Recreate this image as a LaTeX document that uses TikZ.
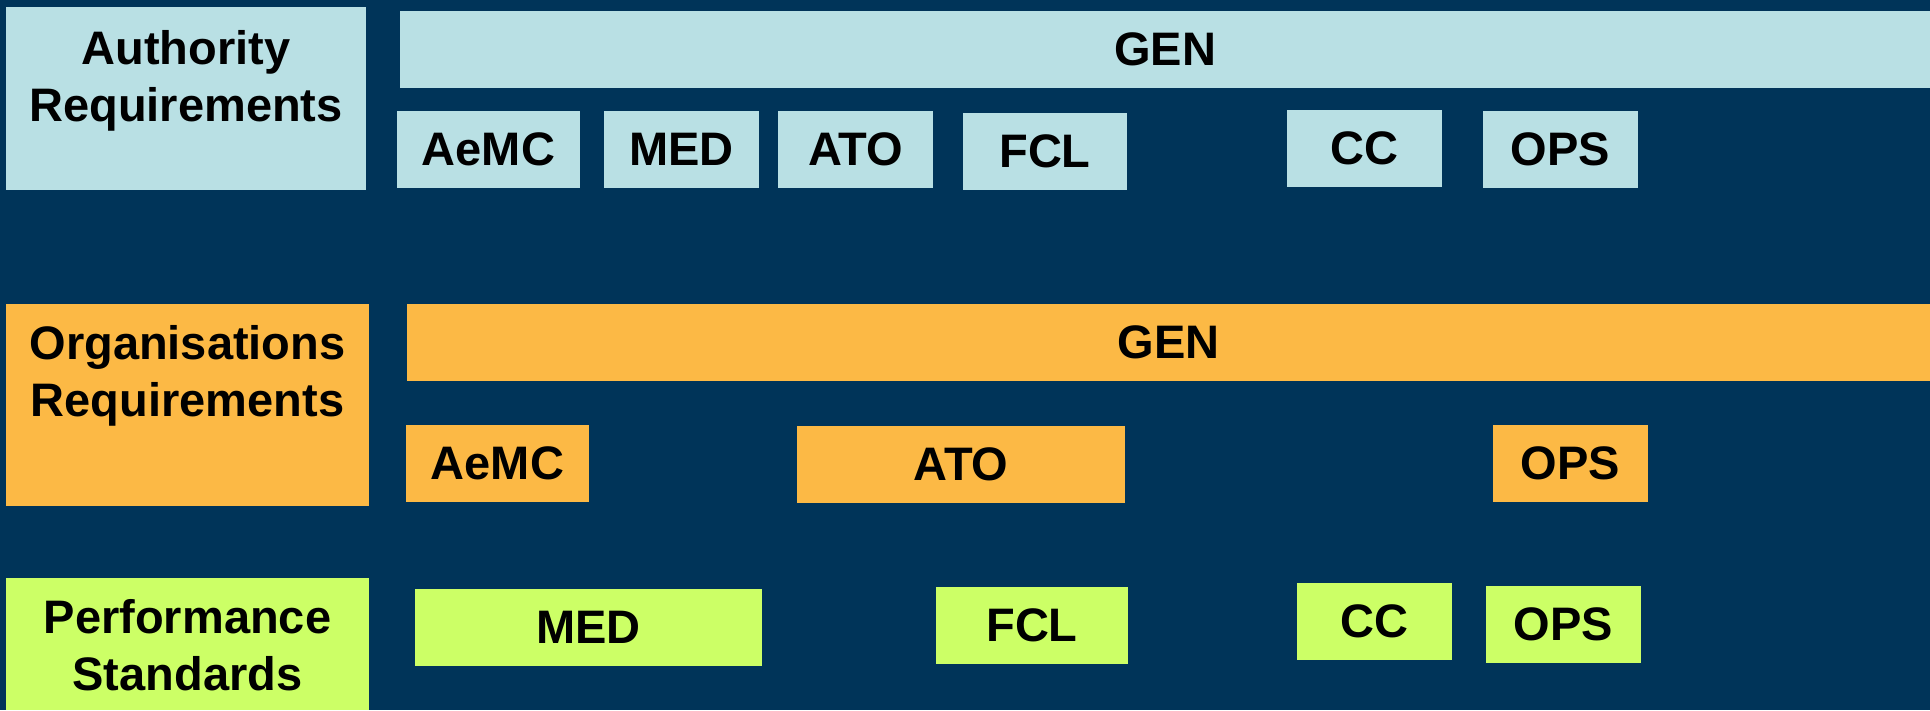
\documentclass[tikz,border=0pt]{standalone}
\usepackage{fontspec}
\setmainfont{Liberation Sans}
\definecolor{navy}{HTML}{003459}
\definecolor{lblue}{HTML}{B9E0E4}
\definecolor{orng}{HTML}{FCB945}
\definecolor{lgreen}{HTML}{CCFF66}
\tikzset{
  cell/.style={rectangle, inner sep=0pt, outer sep=0pt, text=black,
    font=\bfseries\fontsize{47}{57}\selectfont},
  bluecell/.style={cell, fill=lblue},
  orangecell/.style={cell, fill=orng},
  greencell/.style={cell, fill=lgreen},
  labeltext/.style={inner sep=0pt, outer sep=0pt, align=center, text=black,
    font=\bfseries\fontsize{47}{57}\selectfont},
}
\begin{document}
\begin{tikzpicture}[x=1pt,y=-1pt]
\useasboundingbox (0,0) rectangle (1930,710);
\fill[navy] (0,0) rectangle (1930,710);
% Row 1: Authority Requirements
\node[bluecell, minimum width=360, minimum height=183] (auth) at (186,98.5) {};
\node[labeltext] (authtxt) at (186,81) {Authority\\Requirements};
\node[bluecell, minimum width=1530, minimum height=77] (gen1) at (1165,49.5) {GEN};
\node[bluecell, minimum width=183, minimum height=77] (aemc1) at (488.5,149.5) {AeMC};
\node[bluecell, minimum width=155, minimum height=77] (med1) at (681.5,149.5) {MED};
\node[bluecell, minimum width=155, minimum height=77] (ato1) at (855.5,149.5) {ATO};
\node[bluecell, minimum width=164, minimum height=77] (fcl1) at (1045,151.5) {FCL};
\node[bluecell, minimum width=155, minimum height=77] (cc1) at (1364.5,148.5) {CC};
\node[bluecell, minimum width=155, minimum height=77] (ops1) at (1560.5,149.5) {OPS};
% Row 2: Organisations Requirements
\node[orangecell, minimum width=363, minimum height=202] (org) at (187.5,405) {};
\node[labeltext] (orgtxt) at (187.5,376) {Organisations\\Requirements};
\node[orangecell, minimum width=1523, minimum height=77] (gen2) at (1168.5,342.5) {GEN};
\node[orangecell, minimum width=183, minimum height=77] (aemc2) at (497.5,463.5) {AeMC};
\node[orangecell, minimum width=328, minimum height=77] (ato2) at (961,464.5) {ATO};
\node[orangecell, minimum width=155, minimum height=77] (ops2) at (1570.5,463.5) {OPS};
% Row 3: Performance Standards
\node[greencell, minimum width=363, minimum height=132] (perf) at (187.5,644) {};
\node[labeltext] (perftxt) at (187.5,645.5) {Performance\\Standards};
\node[greencell, minimum width=347, minimum height=77] (med3) at (588.5,627.5) {MED};
\node[greencell, minimum width=192, minimum height=77] (fcl3) at (1032,625.5) {FCL};
\node[greencell, minimum width=155, minimum height=77] (cc3) at (1374.5,621.5) {CC};
\node[greencell, minimum width=155, minimum height=77] (ops3) at (1563.5,624.5) {OPS};
\end{tikzpicture}
\end{document}
